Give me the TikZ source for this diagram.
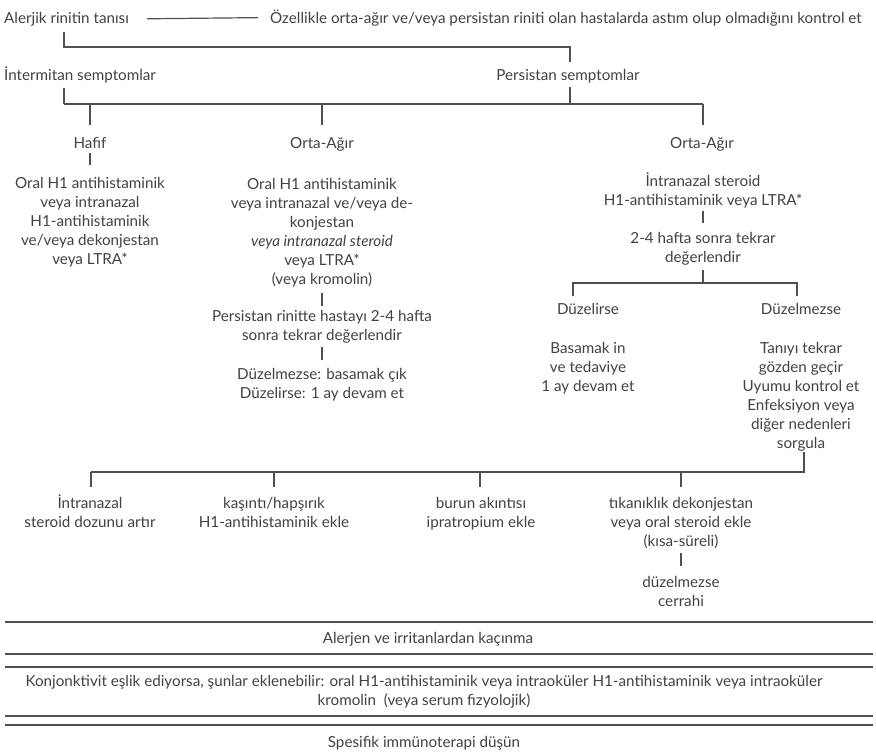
\documentclass[tikz,border=0pt]{standalone}
\usepackage{fontspec}
\setmainfont{Lato}
\definecolor{txt}{HTML}{424242}
\definecolor{ln}{HTML}{505050}
\begin{document}
\begin{tikzpicture}[x=1pt,y=-1pt,
  lbl/.style={inner sep=0pt, align=center, text=txt, font=\fontsize{15.2}{19}\selectfont, anchor=base},
  conn/.style={draw=ln, line width=1.2pt},
  rule/.style={draw=ln, line width=1.4pt},
]
\useasboundingbox (0,0) rectangle (876,755);
\fill[white] (0,0) rectangle (876,755);

% ---- top row
\node[lbl, anchor=base west] (root) at (4,23) {Alerjik rinitin tanısı};
\node[lbl, anchor=base west] (note) at (270,23) {Özellikle orta-ağır ve/veya persistan riniti olan hastalarda astım olup olmadığını kontrol et};
\draw[conn] ([xshift=18pt]root.east) -- ([xshift=-12pt]note.west);

% ---- symptoms
\node[lbl, anchor=base west] (inter) at (4,80) {İntermitan semptomlar};
\node[lbl] (persist) at (568,80) {Persistan semptomlar};
\coordinate (j0) at (64,47);
\coordinate (j1) at (64,104);
\draw[conn] (j0 |- root.south) ++(0,-6pt) -- (j0) -| (570,62);
\draw[conn] (j1 |- 0,88) -- (j1);
\draw[conn] (570,87) -- (570,104);

% ---- severity
\node[lbl] (hafif) at (90,148) {Hafif};
\node[lbl] (orta1) at (322,148) {Orta-Ağır};
\node[lbl] (orta2) at (702,148) {Orta-Ağır};
\draw[conn] (j1) -- (703,104);
\draw[conn] (hafif |- 0,104) -- (hafif |- 0,125);
\draw[conn] (orta1 |- 0,104) -- (orta1 |- 0,125);
\draw[conn] (703,104) -- (703,125);

% ---- left column
\node[lbl] (hafifT) at (90,264) {Oral H1 antihistaminik\\veya intranazal\\H1-antihistaminik\\ve/veya dekonjestan\\veya LTRA*};
\draw[conn] (hafif |- 0,153) -- (hafifT |- 0,165);

% ---- middle column
\node[lbl] (orta1T) at (322,284) {Oral H1 antihistaminik\\veya intranazal ve/veya de-\\konjestan\\\textit{veya intranazal steroid}\\veya LTRA*\\(veya kromolin)};
\node[lbl] (pers2T) at (322,340) {Persistan rinitte hastayı 2-4 hafta\\sonra tekrar değerlendir};
\node[lbl] (dz1T) at (322,398) {Düzelmezse: basamak çık\\Düzelirse: 1 ay devam et};
\draw[conn] (orta1T |- 0,293) -- (pers2T |- 0,306);
\draw[conn] (pers2T |- 0,347) -- (dz1T |- 0,360);

% ---- right column
\node[lbl] (orta2T) at (703,205) {İntranazal steroid\\H1-antihistaminik veya LTRA*};
\node[lbl] (hafta) at (703,262) {2-4 hafta sonra tekrar\\değerlendir};
\draw[conn] (orta2T |- 0,211) -- (hafta |- 0,223);
\coordinate (j2) at (703,283);
\draw[conn] (hafta |- 0,270) -- (j2);
\node[lbl] (duz) at (588,314) {Düzelirse};
\node[lbl] (duzm) at (801,314) {Düzelmezse};
\draw[conn] (573,296) |- (j2) -| (797,296);
\node[lbl] (basamak) at (588,391) {Basamak in\\ve tedaviye\\1 ay devam et};
\node[lbl] (taniyi) at (801,448) {Tanıyı tekrar\\gözden geçir\\Uyumu kontrol et\\Enfeksiyon veya\\diğer nedenleri\\sorgula};

% ---- bottom branches
\coordinate (j3) at (804,472);
\draw[conn] (j3 |- 0,452) -- (j3) -- (91,472);
\node[lbl] (b1) at (90,527) {İntranazal\\steroid dozunu artır};
\node[lbl] (b2) at (274,527) {kaşıntı/hapşırık\\H1-antihistaminik ekle};
\node[lbl] (b3) at (481,527) {burun akıntısı\\ipratropium ekle};
\node[lbl] (b4) at (681,546) {tıkanıklık dekonjestan\\veya oral steroid ekle\\(kısa-süreli)};
\node[lbl] (b5) at (681,606) {düzelmezse\\cerrahi};
\foreach \x in {91,274,480,681}
  \draw[conn] (\x,472) -- (\x,487);
\draw[conn] (b4 |- 0,553) -- (b5 |- 0,566);

% ---- bands
\foreach \y in {622,654,667,716,725}
  \draw[rule] (5,\y) -- (873,\y);
\node[lbl] (avoid) at (428,643) {Alerjen ve irritanlardan kaçınma};
\node[lbl] (konj) at (424,705) {Konjonktivit eşlik ediyorsa, şunlar eklenebilir: oral H1-antihistaminik veya intraoküler H1-antihistaminik veya intraoküler\\kromolin\ \ (veya serum fizyolojik)};
\node[lbl] (spes) at (424,747) {Spesifik immünoterapi düşün};
\end{tikzpicture}
\end{document}
